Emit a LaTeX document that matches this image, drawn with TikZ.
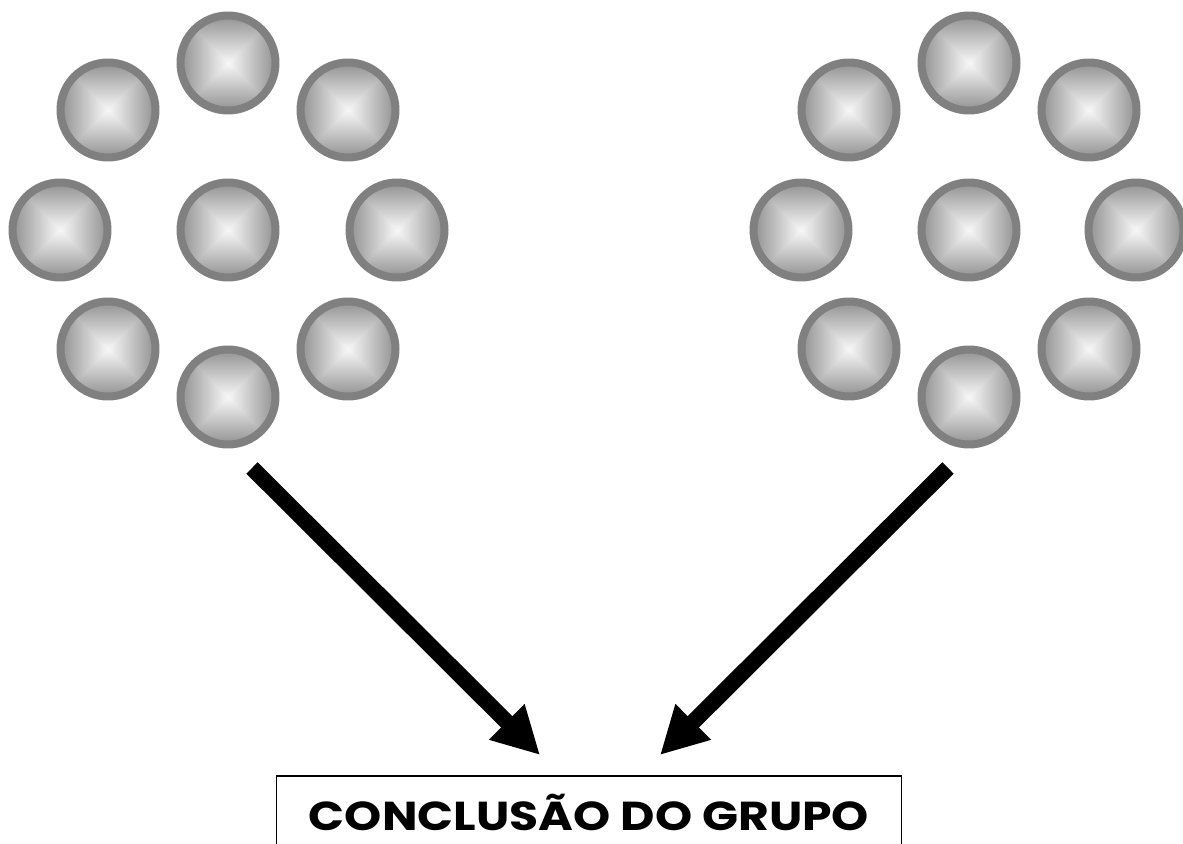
\documentclass[tikz,border=0pt]{standalone}
\usepackage{fontspec}
\setmainfont{Poppins}
\newfontfamily\boxfont[FakeStretch=1.17]{Poppins}
\usetikzlibrary{arrows.meta}
\definecolor{ballrim}{gray}{0.5}
\pgfdeclarefunctionalshading{boxfade}{\pgfpoint{-50bp}{-50bp}}{\pgfpoint{50bp}{50bp}}{}{
  abs exch abs 2 copy lt {exch} if pop
  0.016 mul 0.97 exch sub
  dup dup
}
\begin{document}
\begin{tikzpicture}[x=0.02cm, y=-0.02cm,
    ball/.style={circle, minimum size=1.9cm, inner sep=0pt, shading=boxfade, draw=ballrim, line width=0.16cm},
    bigarrow/.style={line width=0.32cm, -{Triangle[length=0.94cm, width=0.94cm]}},
    endbox/.style={draw, line width=0.6pt, minimum width=12.52cm, minimum height=1.8cm,
        text height=0.36cm, text depth=0cm, font=\boxfont\bfseries\fontsize{23}{23}\selectfont}]
    \useasboundingbox (0,0) rectangle (1183,844);

    % left group
    \node[ball] (L0) at (228, 230) {};
    \node[ball] (L1) at (228, 63) {};
    \node[ball] (L2) at (348, 110) {};
    \node[ball] (L3) at (397, 230) {};
    \node[ball] (L4) at (348, 349) {};
    \node[ball] (L5) at (228, 397) {};
    \node[ball] (L6) at (108, 349) {};
    \node[ball] (L7) at (60, 230) {};
    \node[ball] (L8) at (108, 110) {};

    % right group
    \node[ball] (R0) at (969, 230) {};
    \node[ball] (R1) at (969, 63) {};
    \node[ball] (R2) at (1089, 110) {};
    \node[ball] (R3) at (1136, 230) {};
    \node[ball] (R4) at (1089, 349) {};
    \node[ball] (R5) at (969, 397) {};
    \node[ball] (R6) at (849, 349) {};
    \node[ball] (R7) at (801, 230) {};
    \node[ball] (R8) at (849, 110) {};

    \node[endbox] (C) at (589, 821) {CONCLUSÃO DO GRUPO};

    \coordinate (La) at (252, 468);
    \coordinate (Lb) at (540, 755);
    \coordinate (Ra) at (948, 468);
    \coordinate (Rb) at (660, 755);

    \draw[bigarrow] (La) to (Lb);
    \draw[bigarrow] (Ra) to (Rb);
\end{tikzpicture}
\end{document}
